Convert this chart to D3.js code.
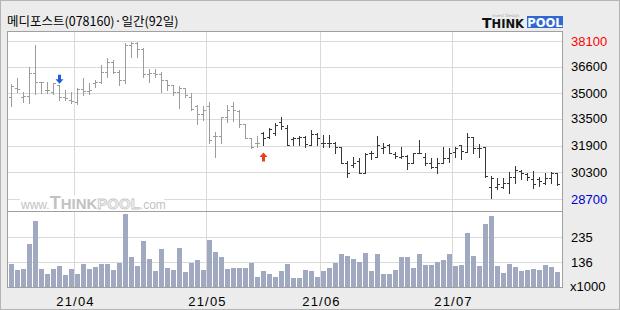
<!DOCTYPE html>
<html>
<head>
<meta charset="utf-8">
<script src="https://cdn.jsdelivr.net/npm/d3@7"></script>
<style>
  html,body{margin:0;padding:0;background:#ececec;}
  svg{display:block;}
</style>
</head>
<body>
<div id="chart"></div>
<script>
// 메디포스트 daily OHLC + volume (92 trading days, 2021-03-17 .. 2021-07-26)
const title = '메디포스트(078160)·일간(92일)';
const opens = [34780,35350,34800,34830,36240,35650,35190,35090,35490,34800,34600,34500,35290,35150,35590,35690,
  36280,36870,36280,35820,37860,38000,37670,36180,36220,36180,35780,35490,35090,35350,34800,34240,
  33770,34240,32460,32460,33570,34240,33960,33170,32320,32020,32660,32420,32660,33310,32970,32260,
  32320,32380,31930,32580,32020,32020,32020,31790,30840,30740,31000,30280,31430,31230,31730,31930,
  31390,31190,31270,30840,31470,31190,30840,30640,30880,31130,31530,31930,31530,32380,31730,31790,
  29450,29450,29410,29690,30050,30400,30200,29890,29890,29690,29950,30240];
const highs = [35550,35940,35090,36580,37860,35690,35690,35630,35490,35230,35090,35350,35940,35590,35780,36680,
  37130,37010,36380,38000,38060,38060,37720,36480,36480,36280,35780,35490,35430,35350,35030,34300,
  34240,34500,32720,33610,34300,34500,34000,33170,32320,32460,32720,32970,33210,33570,33110,32380,
  32460,32460,32820,32620,32520,32520,32120,31790,31000,31190,31130,31430,31590,32460,32020,31980,
  31530,31790,31330,31470,32220,31430,31130,31170,31790,31730,31790,31930,32660,32380,31980,31830,
  30090,29950,29950,30340,30680,30440,30280,30400,30050,30280,30340,30280];
const lows = [34260,35090,34500,34440,34990,35030,35030,34990,34600,34600,34440,34360,34890,34950,35390,35590,
  35980,36220,35490,35590,37170,37170,35980,35690,35980,35090,35190,34890,34160,34800,34040,33170,
  33410,32060,31230,32020,33310,33370,33010,32320,31730,31790,31930,32320,32520,32910,31930,31930,
  31930,31790,31930,31930,31830,31830,31430,30840,30010,30640,30280,30280,31080,31190,31430,31430,
  31130,31130,30480,30840,31430,30740,30540,30280,30840,30940,31190,31080,31530,31470,31190,30050,
  28760,29290,29350,29100,29650,29890,29850,29350,29490,29610,29650,29550];
const closes = [35430,35290,34850,36240,35650,35650,35190,35590,34800,34700,34560,35290,35150,35190,35690,36280,
  36870,36280,35820,37860,38000,37670,36180,36220,36180,35780,35490,35090,35350,34890,34100,33770,
  34040,32220,32460,33570,34000,34000,33170,32320,31790,32020,32320,32910,33110,33050,31930,32320,
  32380,31980,32580,32320,32020,32020,31790,30840,30280,30840,30280,31390,31470,31930,31790,31430,
  31270,31270,30840,31430,31430,30840,30600,30840,31130,31470,31730,31590,32380,31730,31730,30090,
  29950,29610,29690,30050,30440,30280,30010,29610,29810,29950,30280,29610];
// volume, x1000 shares
const volumes = [129,106,110,209,300,110,90,110,122,86,110,90,129,110,118,129,
  129,106,133,327,157,122,221,149,102,189,114,106,193,98,133,145,
  106,224,177,157,110,114,114,114,133,78,102,90,78,102,129,74,
  74,106,102,78,102,114,133,169,161,149,137,173,102,169,90,90,
  106,157,157,114,169,125,125,137,145,169,122,125,252,161,122,288,
  320,122,94,129,118,102,106,110,106,125,118,98];
const priceTicks = [38100,36600,35000,33500,31900,30300,28700];
const volumeTicks = [235,136];
const monthStarts = [11,33,52,74];
const monthLabels = ['21/04','21/05','21/06','21/07'];
const sellSignals = [8];
const buySignals = [42];

const W = 620, H = 310;
const svg = d3.select('#chart').append('svg').attr('width',W).attr('height',H);
const numFont = '"Liberation Sans Narrow","Liberation Sans",Arial,sans-serif';

// outer frame
svg.append('rect').attr('x',0.5).attr('y',0.5).attr('width',W-1).attr('height',H-1)
  .attr('fill','#ececec').attr('stroke','#b4b4b4');

// plot area
const L = 7.5, R = 562.5, T = 31.5, MID = 211.5, B = 287.5;
svg.append('rect').attr('x',L).attr('y',T).attr('width',R-L).attr('height',B-T).attr('fill','#fff');

const n = closes.length;
const x = d3.scaleLinear().domain([0,n-1]).range([11.5, 11.5+6*(n-1)]);
const yP = d3.scaleLinear().domain([28700,38100]).range([199.3,41.3]);
const yV = d3.scaleLinear().domain([37,335]).range([B,212]);

const grid = svg.append('g').attr('stroke','#dadada').attr('shape-rendering','crispEdges');
grid.selectAll('.hp').data(priceTicks).enter().append('line')
  .attr('x1',L).attr('x2',R).attr('y1',d=>Math.round(yP(d))+0.5).attr('y2',d=>Math.round(yP(d))+0.5);
grid.selectAll('.hv').data(volumeTicks).enter().append('line')
  .attr('x1',L).attr('x2',R).attr('y1',d=>Math.round(yV(d))+0.5).attr('y2',d=>Math.round(yV(d))+0.5);
grid.selectAll('.vm').data(monthStarts).enter().append('line')
  .attr('x1',d=>x(d)-3).attr('x2',d=>x(d)-3).attr('y1',T).attr('y2',B);

// watermark
const wm = svg.append('g');
wm.append('rect').attr('x',20).attr('y',195).attr('width',144).attr('height',16).attr('fill','#fff');
const wmt = wm.append('text').attr('x',21).attr('y',209).attr('fill','#c2c2c2')
  .attr('font-family','"Liberation Sans",Arial,sans-serif');
wmt.append('tspan').attr('font-size',12).text('www.');
wmt.append('tspan').attr('font-size',18).attr('font-weight','bold').text('T');
wmt.append('tspan').attr('font-size',15).attr('font-weight','bold').text('HINK');
wmt.append('tspan').attr('font-size',15).attr('font-weight','bold').attr('fill','#f4f4f4')
  .attr('stroke','#c8c8c8').attr('stroke-width',0.8).text('POOL');
wmt.append('tspan').attr('font-size',12).text('.com');

// volume bars
svg.append('g').attr('shape-rendering','crispEdges').selectAll('rect').data(volumes).enter().append('rect')
  .attr('x',(d,i)=>x(i)-2.5).attr('width',5)
  .attr('y',d=>yV(d)).attr('height',d=>B-yV(d)).attr('fill','#a1a9c1');

// OHLC bars
const darkFrom = buySignals[0];
const ohlc = svg.append('g').attr('shape-rendering','crispEdges');
d3.range(n).forEach(i=>{
  const c = i < darkFrom ? '#9c9c9c' : '#383838';
  const cx = x(i);
  ohlc.append('line').attr('x1',cx).attr('x2',cx).attr('y1',yP(highs[i])).attr('y2',yP(lows[i])+1).attr('stroke',c);
  ohlc.append('line').attr('x1',cx-2.5).attr('x2',cx).attr('y1',Math.round(yP(opens[i]))+0.5).attr('y2',Math.round(yP(opens[i]))+0.5).attr('stroke',c);
  ohlc.append('line').attr('x1',cx).attr('x2',cx+2.5).attr('y1',Math.round(yP(closes[i]))+0.5).attr('y2',Math.round(yP(closes[i]))+0.5).attr('stroke',c);
});

// signal arrows
sellSignals.forEach(i=>{
  const cx = x(i), ty = yP(highs[i]) - 1.5;
  svg.append('path').attr('fill','#1d5ed8')
    .attr('d',`M${cx-1.5},${ty-9}h3v4.5h2.5l-4,4.5l-4,-4.5h2.5z`);
});
buySignals.forEach(i=>{
  const cx = x(i), ty = yP(lows[i]) + 7.5;
  svg.append('path').attr('fill','#e8401c')
    .attr('d',`M${cx},${ty}l4,4.5h-2.5v4.5h-3v-4.5h-2.5z`);
});

// frame lines
const fr = svg.append('g').attr('stroke','#a0a0a0').attr('fill','none').attr('shape-rendering','crispEdges');
fr.append('rect').attr('x',L).attr('y',T).attr('width',R-L).attr('height',B-T);
fr.append('line').attr('x1',L).attr('x2',R).attr('y1',MID).attr('y2',MID);

// right axis labels
const ax = svg.append('g').attr('font-family',numFont).attr('font-size',13);
ax.selectAll('.pl').data(priceTicks).enter().append('text')
  .attr('x',571).attr('y',d=>yP(d)).attr('dy','0.36em')
  .attr('fill',(d,i)=>i===0?'#ff0000':(i===priceTicks.length-1?'#0000cc':'#000'))
  .text(d=>d);
ax.selectAll('.vl').data(volumeTicks).enter().append('text')
  .attr('x',571).attr('y',d=>yV(d)).attr('dy','0.36em').attr('fill','#000').text(d=>d);
ax.append('text').attr('x',570).attr('y',286).attr('dy','0.36em').attr('fill','#000').text('x1000');

// month labels
ax.selectAll('.ml').data(monthStarts).enter().append('text')
  .attr('x',d=>x(d)-2).attr('y',301).attr('dy','0.36em').attr('text-anchor','middle')
  .attr('letter-spacing','1.2px').attr('fill','#000')
  .text((d,i)=>monthLabels[i]);

// title
svg.append('text').attr('x',7).attr('y',26).attr('font-family','"Noto Sans CJK KR",sans-serif')
  .attr('font-size',12.5).attr('fill','#000').text(title);

// logo
const lg = svg.append('g').attr('font-family','"DejaVu Sans","Liberation Sans",sans-serif').attr('font-weight','bold');
lg.append('rect').attr('x',527).attr('y',16).attr('width',36).attr('height',12).attr('fill','#2f68d4');
const lt = lg.append('text').attr('x',482).attr('y',27.5).attr('fill','#111');
lt.append('tspan').attr('font-size',14).text('T');
lt.append('tspan').attr('font-size',11.5).text('HINK');
lg.append('text').attr('x',545).attr('y',26.8).attr('text-anchor','middle').attr('font-size',11.5)
  .attr('fill','#fff').text('POOL');
lg.append('text').attr('x',492).attr('y',17).attr('font-size',4).attr('font-weight','normal')
  .attr('fill','#aaa').text('Invest Design');
</script>
</body>
</html>
